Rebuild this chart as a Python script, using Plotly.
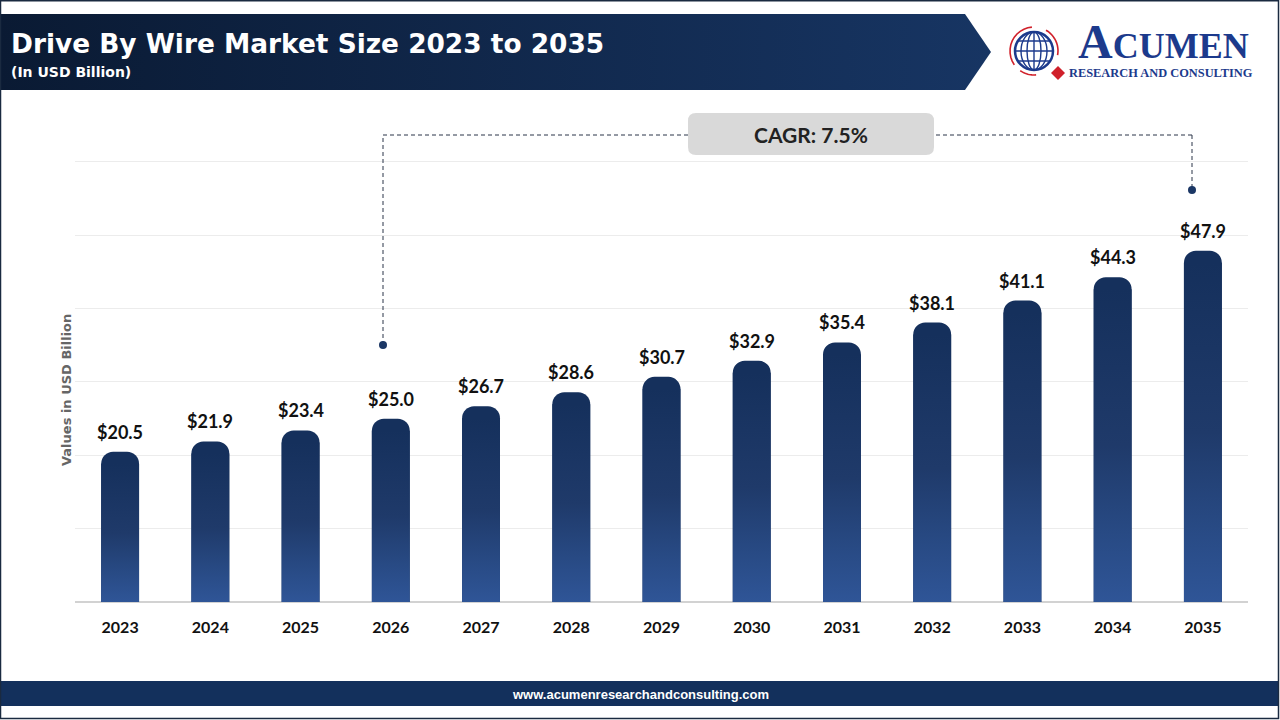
import math
import plotly.graph_objects as go

# ---------------- data ----------------
years = ["2023", "2024", "2025", "2026", "2027", "2028", "2029",
         "2030", "2031", "2032", "2033", "2034", "2035"]
values = [20.5, 21.9, 23.4, 25.0, 26.7, 28.6, 30.7, 32.9, 35.4, 38.1, 41.1, 44.3, 47.9]
value_labels = ["$" + format(v, ".1f") for v in values]
y_grid = [0, 10, 20, 30, 40, 50, 60]

title_text = "Drive By Wire Market Size 2023 to 2035"
subtitle_text = "(In USD Billion)"
y_title = "Values in USD Billion"
cagr_text = "CAGR: 7.5%"
footer_text = "www.acumenresearchandconsulting.com"
logo_big = "A"
logo_rest = "CUMEN"
logo_sub = "RESEARCH AND CONSULTING"

# ---------------- style ----------------
W, H = 1280, 720
Y_TOP = 60.4                     # axis range top
PX_PER_UNIT = 440 / 60
PL, PR, PB = 75, 1248, 602
PT = PB - Y_TOP * PX_PER_UNIT
BAR_W = 0.42
CORNER_PX = 12
NAVY_TOP = "#15305c"
NAVY = "#1b3765"
LOGO_BLUE = "#1c3a8c"
RED = "#d0202a"
LABEL_FONT = "Lato"
BAR_GRADIENT = [[0, "#2f5597"], [0.22, "#284a84"], [0.5, "#1f3a6a"], [1, NAVY_TOP]]
X_RANGE = [-0.5, len(years) - 0.5]

fig = go.Figure()

fig.add_trace(go.Bar(
    x=years, y=values, width=BAR_W,
    marker=dict(color=NAVY_TOP, line=dict(width=0)),
    hoverinfo="skip", showlegend=False,
    xaxis="x", yaxis="y",
))

# vertical gradient shading laid over each bar body (below its rounded cap),
# drawn on a linear x axis that overlays the category axis index-for-index
cap_units = CORNER_PX / PX_PER_UNIT
for idx, v in enumerate(values):
    x0, x1 = idx - BAR_W / 2, idx + BAR_W / 2
    top = v - cap_units
    fig.add_trace(go.Scatter(
        x=[x0, x1, x1, x0, x0], y=[0, 0, top, top, 0],
        xaxis="x3", yaxis="y", mode="lines", fill="toself",
        line=dict(width=0, color="rgba(0,0,0,0)"),
        fillgradient=dict(type="vertical", colorscale=BAR_GRADIENT),
        hoverinfo="skip", showlegend=False,
    ))

annotations = []
# category axis: numeric-looking names are read as indices, so use the index
for idx, (v, lab) in enumerate(zip(values, value_labels)):
    annotations.append(dict(
        x=idx, y=v, xref="x", yref="y", text="<b>" + lab + "</b>",
        showarrow=False, yanchor="bottom", yshift=7,
        font=dict(family=LABEL_FONT, size=18, color="#111111"),
    ))

# ---- decorations in pixel coordinates (x2 / y2 overlay spans whole page) ----
def deco_trace(xs, ys, **kw):
    return go.Scatter(x=xs, y=ys, xaxis="x2", yaxis="y2", mode="lines",
                      hoverinfo="skip", showlegend=False, **kw)

# header banner with horizontal gradient
fig.add_trace(deco_trace(
    [0, 965, 991, 965, 0, 0], [14, 14, 52, 90, 90, 14],
    fill="toself", line=dict(width=0, color="rgba(0,0,0,0)"),
    fillgradient=dict(type="horizontal",
                      colorscale=[[0, "#0a1a33"], [1, "#173563"]]),
))

shapes = []
def px_shape(**kw):
    d = dict(xref="x2", yref="y2", layer="above")
    d.update(kw)
    shapes.append(d)

# footer band
px_shape(type="rect", x0=1, x1=1279, y0=681, y1=706,
         fillcolor="#13305c", line=dict(width=0))
# outer frame
px_shape(type="rect", x0=0.5, x1=1278.5, y0=0.8, y1=718.5,
         fillcolor="rgba(0,0,0,0)", line=dict(color="#1a2a40", width=1.5))

# CAGR dashed connector
dash = dict(color="#2a3548", width=1, dash="4px,3px")
px_shape(type="line", x0=383, x1=383, y0=345, y1=135, line=dash)
px_shape(type="line", x0=383, x1=1192, y0=135, y1=135, line=dash)
px_shape(type="line", x0=1192, x1=1192, y0=135, y1=190, line=dash)
for cx, cy in [(383, 345), (1192, 190)]:
    px_shape(type="circle", x0=cx - 4, x1=cx + 4, y0=cy - 4, y1=cy + 4,
             fillcolor=NAVY, line=dict(width=0))

# CAGR rounded box
bx0, bx1, by0, by1, r = 688, 934, 113, 155, 8
path = (f"M {bx0+r} {by0} L {bx1-r} {by0} Q {bx1} {by0} {bx1} {by0+r} "
        f"L {bx1} {by1-r} Q {bx1} {by1} {bx1-r} {by1} L {bx0+r} {by1} "
        f"Q {bx0} {by1} {bx0} {by1-r} L {bx0} {by0+r} Q {bx0} {by0} {bx0+r} {by0} Z")
px_shape(type="path", path=path, fillcolor="#d9d9d9", line=dict(width=0))

# logo globe
gcx, gcy, gr = 1034, 51, 19
px_shape(type="circle", x0=gcx - gr, x1=gcx + gr, y0=gcy - gr, y1=gcy + gr,
         fillcolor="white", line=dict(color=LOGO_BLUE, width=2.5))
for w in (7, 13):
    px_shape(type="circle", x0=gcx - w, x1=gcx + w, y0=gcy - gr, y1=gcy + gr,
             line=dict(color=LOGO_BLUE, width=1.4))
px_shape(type="line", x0=gcx, x1=gcx, y0=gcy - gr, y1=gcy + gr,
         line=dict(color=LOGO_BLUE, width=1.4))
for dy in (-10, 0, 10):
    hw = math.sqrt(gr * gr - dy * dy)
    px_shape(type="line", x0=gcx - hw, x1=gcx + hw, y0=gcy + dy, y1=gcy + dy,
             line=dict(color=LOGO_BLUE, width=1.4))

def arc_path(cx, cy, rad, a0, a1, n=12):
    pts = []
    for i in range(n + 1):
        a = math.radians(a0 + (a1 - a0) * i / n)
        pts.append((cx + rad * math.cos(a), cy - rad * math.sin(a)))
    return "M " + " L ".join(f"{x:.1f} {y:.1f}" for x, y in pts)

px_shape(type="path", path=arc_path(gcx, gcy, 24, 95, 215),
         line=dict(color=RED, width=1.6))
px_shape(type="path", path=arc_path(gcx, gcy, 24, -10, 60),
         line=dict(color=RED, width=1.6))
px_shape(type="path", path=arc_path(gcx, gcy, 24, 235, 275),
         line=dict(color=RED, width=1.6))
px_shape(type="path", path="M 1058 66 L 1065 73 L 1058 80 L 1051 73 Z",
         fillcolor=RED, line=dict(width=0))

def px_ann(x, y, text, **kw):
    d = dict(x=x, y=y, xref="x2", yref="y2", text=text, showarrow=False)
    d.update(kw)
    annotations.append(d)

px_ann(9, 43, "<b>" + title_text + "</b>", xanchor="left", yanchor="middle",
       font=dict(family="DejaVu Sans", size=26.4, color="white"))
px_ann(9, 72, "<b>" + subtitle_text + "</b>", xanchor="left", yanchor="middle",
       font=dict(family="DejaVu Sans", size=14, color="white"))
px_ann(811, 134, "<b>" + cagr_text + "</b>", xanchor="center", yanchor="middle",
       font=dict(family=LABEL_FONT, size=21, color="#222222"))
px_ann(66, 390, "<b>" + y_title + "</b>", xanchor="center", yanchor="middle",
       textangle=-90, font=dict(family="DejaVu Sans", size=13, color="#666666"))
px_ann(640, 694, "<b>" + footer_text + "</b>", xanchor="center", yanchor="middle",
       font=dict(family="Liberation Sans", size=13, color="white"))
px_ann(1076, 41, "<b><span style='font-size:48px'>" + logo_big + "</span>" + logo_rest + "</b>",
       xanchor="left", yanchor="middle",
       font=dict(family="Liberation Serif", size=36, color=LOGO_BLUE))
px_ann(1067, 73, "<b>" + logo_sub + "</b>", xanchor="left", yanchor="middle",
       font=dict(family="Liberation Serif", size=12.4, color=LOGO_BLUE))

fig.update_layout(
    width=W, height=H,
    margin=dict(l=0, r=0, t=0, b=0),
    paper_bgcolor="white", plot_bgcolor="rgba(0,0,0,0)",
    showlegend=False, bargap=0.58,
    barcornerradius=CORNER_PX,
    xaxis=dict(domain=[PL / W, PR / W], type="category", anchor="y",
               range=X_RANGE,
               showgrid=False, showline=False, zeroline=False, ticks="",
               ticklabelstandoff=14, automargin=False, fixedrange=True,
               tickfont=dict(family=LABEL_FONT, size=16, color="#111111"),
               tickprefix="<b>", ticksuffix="</b>"),
    xaxis3=dict(type="linear", overlaying="x", anchor="y", range=X_RANGE,
                visible=False, showgrid=False, zeroline=False,
                automargin=False, fixedrange=True),
    yaxis=dict(domain=[(H - PB) / H, (H - PT) / H], range=[0, Y_TOP],
               tickvals=y_grid, showticklabels=False, anchor="x",
               showgrid=True, gridcolor="#ececec", gridwidth=1,
               zeroline=True, zerolinecolor="#d2d2d2", zerolinewidth=1.5,
               showline=False, automargin=False, fixedrange=True),
    xaxis2=dict(domain=[0, 1], range=[0, W], anchor="y2", visible=False,
                fixedrange=True),
    yaxis2=dict(domain=[0, 1], range=[H, 0], anchor="x2", visible=False,
                fixedrange=True),
    annotations=annotations,
    shapes=shapes,
)

fig.write_html("out.html", config={"displayModeBar": False},
               post_script="document.body.style.margin='0';document.body.style.overflow='hidden';")
